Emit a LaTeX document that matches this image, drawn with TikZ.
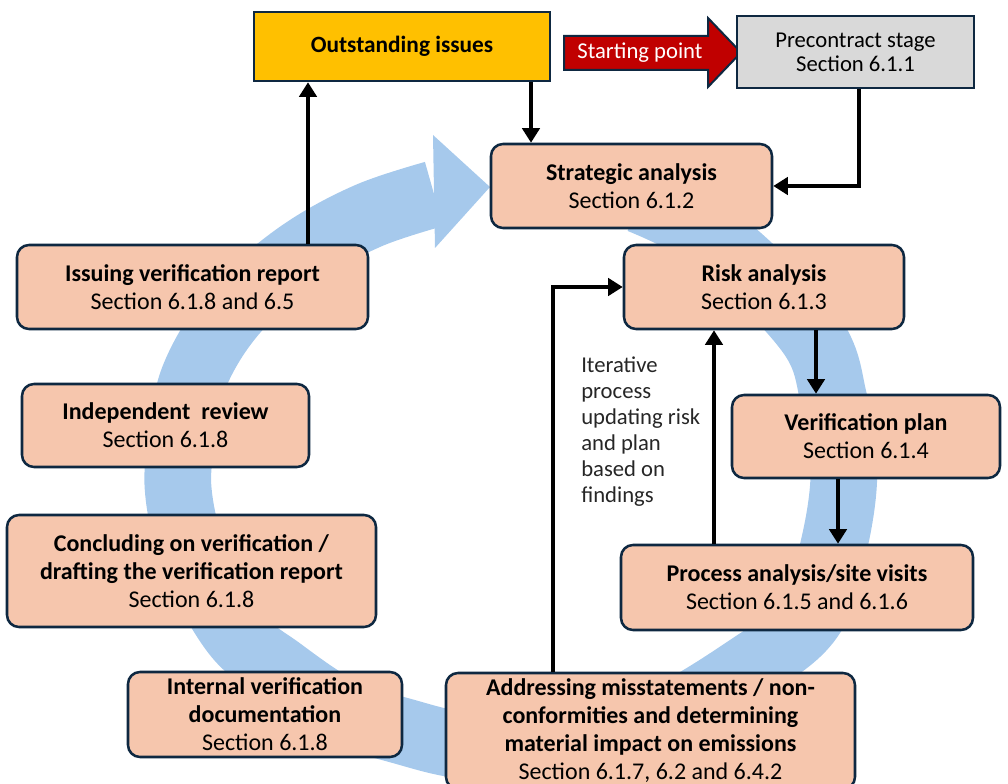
\documentclass[tikz,border=0pt]{standalone}
\usepackage{fontspec}
\setmainfont{Carlito}
\usepackage{tikz}
\usetikzlibrary{arrows.meta,positioning}
\usepackage{xcolor}
\definecolor{boxpeach}{RGB}{246,198,173}
\definecolor{boxline}{RGB}{14,40,65}
\definecolor{ringblue}{RGB}{166,201,236}
\definecolor{issueyellow}{RGB}{255,192,0}
\definecolor{stagegrey}{RGB}{217,217,217}
\definecolor{startred}{RGB}{192,0,0}
\tikzstyle{stage} = [rectangle, rounded corners=9pt, draw=boxline, line width=1.9pt, fill=boxpeach, align=center, inner sep=0pt, font=\fontsize{18}{21}\selectfont]
\tikzstyle{flow} = [line width=3.3pt, -{Triangle[length=11pt,width=13pt]}]
\tikzstyle{ring} = [line width=50pt, color=ringblue]

\begin{document}
\begin{tikzpicture}[x=0.75pt, y=-0.75pt]
\useasboundingbox (0,0) rectangle (1008,784);

% Cycle arrow in the background
\draw[ring] plot[smooth, tension=0.6] coordinates {(640,200) (721,243) (810,333) (834,400) (844,470) (834,545) (810,618) (748,668) (655,722) (560,744) (470,746) (402,731) (340,710) (280,670) (235,633) (195,560) (178,487) (185,420) (193,380) (218,333) (255,290) (308,248) (370,215) (434,194)};
\fill[ringblue] (433,135) -- (490,187) -- (435,248) -- cycle;

% Top row
\node[rectangle, draw=boxline, line width=1.9pt, fill=issueyellow, minimum width=222pt, minimum height=51.75pt, font=\fontsize{17.5}{21}\selectfont\bfseries] (outstanding) at (402,46.5) {Outstanding issues};
\filldraw[fill=startred, draw=boxline, line width=1.5pt] (564,36) -- (708,36) -- (708,18) -- (741,52.5) -- (708,87) -- (708,70) -- (564,70) -- cycle;
\node[text=white, font=\fontsize{17}{20}\selectfont] (startpt) at (640,53) {Starting point};
\node[rectangle, draw=boxline, line width=1.9pt, fill=stagegrey, minimum width=177.75pt, minimum height=54pt, align=center, font=\fontsize{17}{18}\selectfont] (precontract) at (855.5,52) {Precontract stage\\Section 6.1.1};

% Stages of the verification
\node[stage, minimum width=210.75pt, minimum height=63pt] (strategic) at (631.5,186) {\textbf{Strategic analysis}\\Section 6.1.2};
\node[stage, minimum width=210pt, minimum height=63pt] (risk) at (764,287) {\textbf{Risk analysis}\\Section 6.1.3};
\node[stage, minimum width=201pt, minimum height=62.25pt] (verifplan) at (866,436.5) {\textbf{Verification plan}\\Section 6.1.4};
\node[stage, minimum width=264pt, minimum height=63.75pt] (process) at (797,587.5) {\textbf{Process analysis/site visits}\\Section 6.1.5 and 6.1.6};
\node[stage, minimum width=306.75pt, minimum height=87pt] (addressing) at (650.5,731) {\textbf{Addressing misstatements / non-}\\\textbf{conformities and determining}\\\textbf{material impact on emissions}\\Section 6.1.7, 6.2 and 6.4.2};
\node[stage, minimum width=205.5pt, minimum height=63.75pt] (internal) at (265,714.5) {\textbf{Internal verification}\\\textbf{documentation}\\Section 6.1.8};
\node[stage, minimum width=276.75pt, minimum height=84pt] (concluding) at (191.5,571) {\textbf{Concluding on verification /}\\\textbf{drafting the verification report}\\Section 6.1.8};
\node[stage, minimum width=215.25pt, minimum height=62.25pt] (independent) at (165.5,425.5) {\textbf{Independent\ \ review}\\Section 6.1.8};
\node[stage, minimum width=263.25pt, minimum height=63pt] (issuing) at (192.5,287) {\textbf{Issuing verification report}\\Section 6.1.8 and 6.5};

\node[anchor=west, align=left, inner sep=0pt, text=black!85, font=\fontsize{17}{19.4}\selectfont] (iterative) at (581,431.5) {Iterative\\process\\updating risk\\and plan\\based on\\findings};

% Connectors
\coordinate (xout) at (531,0);
\coordinate (xpre) at (859,0);
\coordinate (xiss) at (308,0);
\coordinate (xrisk) at (816,0);
\coordinate (xplan) at (838,0);
\coordinate (xproc) at (714,0);
\coordinate (xadd) at (553,0);
\draw[flow] (outstanding.south -| xout) -- (strategic.north -| xout);
\draw[flow] (precontract.south -| xpre) |- (strategic.east);
\draw[flow] (issuing.north -| xiss) -- (outstanding.south -| xiss);
\draw[flow] (risk.south -| xrisk) -- (verifplan.north -| xrisk);
\draw[flow] (verifplan.south -| xplan) -- (process.north -| xplan);
\draw[flow] (process.north -| xproc) -- (risk.south -| xproc);
\draw[flow] (addressing.north -| xadd) |- (risk.west);
\end{tikzpicture}
\end{document}
